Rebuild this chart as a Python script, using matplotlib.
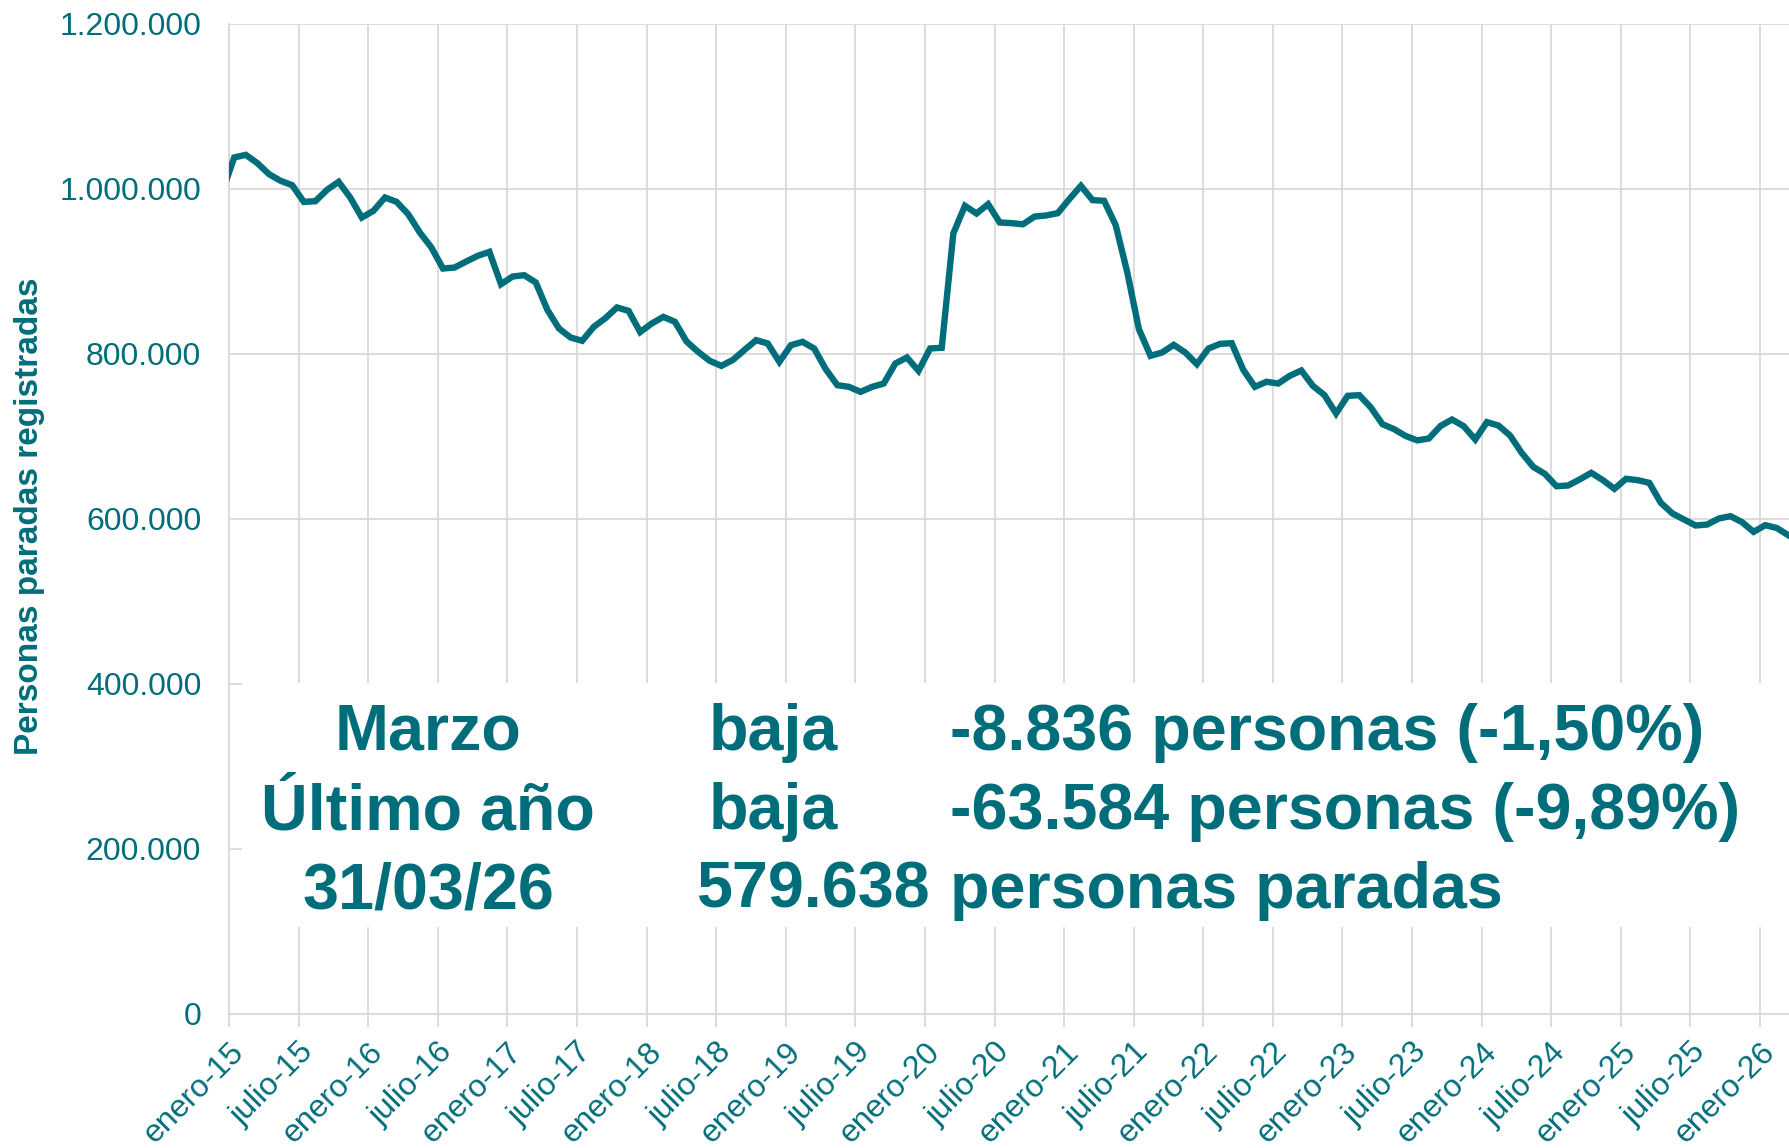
import numpy as np
import matplotlib
matplotlib.use("Agg")
import matplotlib.pyplot as plt
from matplotlib.patches import Rectangle

plt.rcParams['font.family'] = ['Liberation Sans', 'DejaVu Sans']

TEAL = '#006E7A'
GRID = '#d9d9d9'

# personas paradas registradas, un valor por mes (dic-14 .. mar-26)
paro_2014 = [997000]
paro_2015 = [1037600, 1040800, 1030700, 1017400, 1009300, 1004000,
             983800, 984600, 998400, 1008100, 989100, 964800]
paro_2016 = [972900, 989100, 983800, 968900, 946700, 928500,
             903000, 904200, 911500, 918400, 923200, 884000]
paro_2017 = [893300, 894900, 886100, 852900, 830300, 819400,
             815400, 832300, 842800, 855800, 851700, 826000]
paro_2018 = [836400, 844400, 838400, 814500, 802000, 791100,
             785000, 792300, 804400, 816200, 812100, 789900]
paro_2019 = [810100, 814100, 806100, 781000, 761600, 759600,
             753500, 759600, 763600, 787900, 795200, 779000]
paro_2020 = [806100, 806900, 945500, 979000, 969700, 981000,
             958800, 958000, 956600, 966000, 967300, 970100]
paro_2021 = [987100, 1003200, 985900, 985100, 955600, 898200,
             829500, 797200, 801200, 810500, 801200, 787100]
paro_2022 = [806100, 811700, 812500, 780200, 759600, 765700,
             763600, 772900, 779400, 760800, 749500, 727300]
paro_2023 = [748700, 749500, 734500, 714300, 708300, 700000,
             694700, 697000, 712100, 720000, 711900, 695800]
paro_2024 = [716800, 712700, 700600, 679600, 662600, 654100,
             639200, 640000, 647300, 655400, 646500, 636000]
paro_2025 = [648100, 646500, 643222, 619000, 606100, 598800,
             591500, 592700, 600000, 602800, 595600, 583800]
paro_2026 = [591900, 588474, 579638]

paro = (paro_2014 + paro_2015 + paro_2016 + paro_2017 + paro_2018 + paro_2019
        + paro_2020 + paro_2021 + paro_2022 + paro_2023 + paro_2024 + paro_2025
        + paro_2026)

# mes 0 = enero-15; cada dato se sitúa a mitad de mes
meses = np.arange(len(paro)) - 1 + 0.45

tick_labels = []
for yy in range(15, 27):
    tick_labels += [f"enero-{yy}", f"julio-{yy}"]
tick_labels = tick_labels[:23]
tick_pos = np.arange(len(tick_labels)) * 6

y_ticks = [0, 200000, 400000, 600000, 800000, 1000000, 1200000]

W, H = 1789, 1148


def fx(px):
    return px / W


def fy(py):
    return 1 - py / H


fig = plt.figure(figsize=(W / 100, H / 100), dpi=100)
ax = fig.add_axes([fx(229), fy(1013.5), 1 - fx(229), fy(23.5) - fy(1013.5)])

ax.plot(meses, paro, color=TEAL, lw=4.6, solid_joinstyle='miter', zorder=3)

ax.set_xlim(0, 134.5)
ax.set_ylim(0, 1200000)
ax.set_xticks(tick_pos)
ax.set_xticklabels(tick_labels, rotation=45, ha='right', va='top',
                   rotation_mode='anchor', fontsize=23, color=TEAL)
ax.set_yticks(y_ticks)
ax.set_yticklabels([f"{v:,.0f}".replace(',', '.') for v in y_ticks],
                   fontsize=23, color=TEAL)
ax.tick_params(axis='x', length=9, width=1.3, color=GRID, pad=8)
ax.tick_params(axis='y', length=0, pad=20)

ax.grid(True, color=GRID, lw=1.3, zorder=0)
ax.set_axisbelow(True)
for s in ['top', 'right']:
    ax.spines[s].set_visible(False)
for s in ['left', 'bottom']:
    ax.spines[s].set_color(GRID)
    ax.spines[s].set_linewidth(1.3)

fig.text(fx(30), fy(516), "Personas paradas registradas", rotation=90,
         ha='center', va='center', fontsize=24, fontweight='bold', color=TEAL)

# recuadro blanco con el resumen
fig.add_artist(Rectangle((fx(242), fy(927)), 1 - fx(242), fy(683) - fy(927),
                         transform=fig.transFigure, fc='white', ec='none',
                         zorder=5))

fs = 46.5
kw = dict(fontsize=fs, fontweight='bold', color=TEAL, va='baseline', zorder=6)
fig.text(fx(428), fy(750), "Marzo", ha='center', **kw)
fig.text(fx(428), fy(829), "Último año", ha='center', **kw)
fig.text(fx(428), fy(908), "31/03/26", ha='center', **kw)
fig.text(fx(773), fy(750), "baja", ha='center', **kw)
fig.text(fx(773), fy(829), "baja", ha='center', **kw)
fig.text(fx(930), fy(908), "579.638", ha='right', **kw)
fig.text(fx(950), fy(750), "-8.836 personas (-1,50%)", ha='left', **kw)
fig.text(fx(950), fy(829), "-63.584 personas (-9,89%)", ha='left', **kw)
fig.text(fx(950), fy(908), "personas paradas", ha='left', **kw)

fig.savefig("out.png", dpi=100)
